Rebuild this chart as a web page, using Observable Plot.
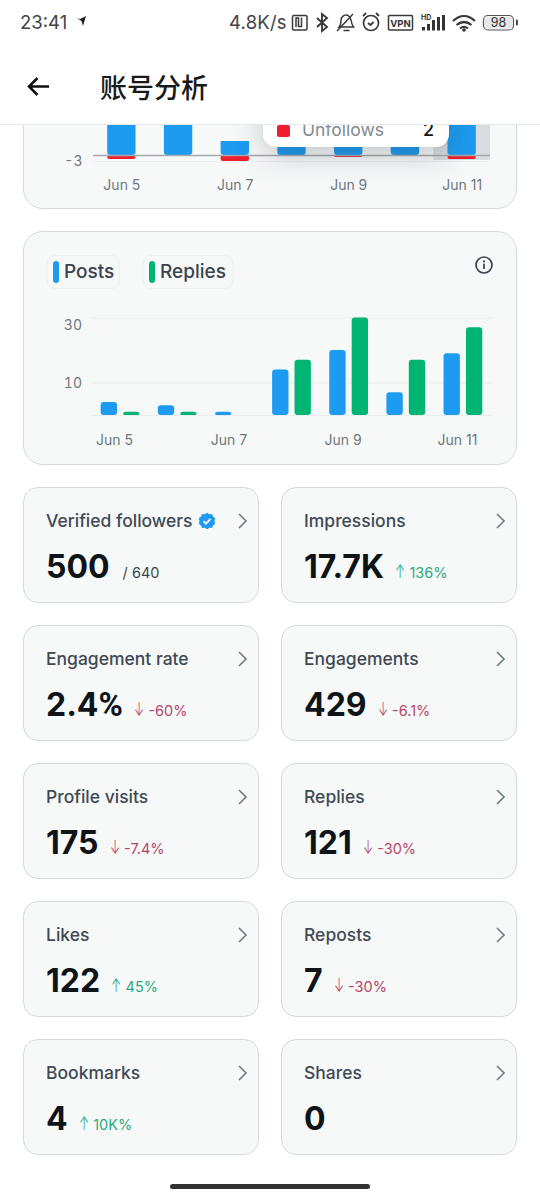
<!DOCTYPE html>
<html><head><meta charset="utf-8">
<script src="https://cdn.jsdelivr.net/npm/d3@7"></script>
<script src="https://cdn.jsdelivr.net/npm/@observablehq/plot@0.6"></script>
<style>
html,body{margin:0;padding:0;background:#fff;width:540px;height:1199px;overflow:hidden;font-family:Inter,sans-serif}
.abs{position:absolute}
.card{position:absolute;box-sizing:border-box;background:#f7f9f9;border:1px solid #d3d9dc}
.tile{width:236px;height:116px;border-radius:15px}
.tile .lab{position:absolute;left:22px;top:22px;font-size:17.5px;font-weight:500;color:#3f4a54;line-height:21px;white-space:nowrap}
.tile .row{position:absolute;left:22px;top:58px;line-height:42px;white-space:nowrap;display:flex;align-items:baseline}
.tile .val{font-size:32px;font-weight:700;color:#0f1419}
.tile .val span{font-family:Roboto,sans-serif;font-size:33px}
.tile .d{font-size:14.5px;margin-left:11px;font-weight:400}
.tile .d.of{margin-left:13px}
.tile .d a{display:inline-block;width:14.5px;font-size:18px;font-weight:300;line-height:1;transform:scaleX(.68);transform-origin:left center}
.tile svg{position:absolute}
.up{color:#2fa87c}.down{color:#b5456a}.of{color:#3c4650}
.pill{position:absolute;box-sizing:border-box;height:34px;top:255px;border:1px solid #eef1f2;border-radius:8px;background:#f7f9f9;font-size:19px;font-weight:500;color:#3a444e;line-height:32px;padding-left:16px}
.pill i{position:absolute;left:5px;top:5px;width:6px;height:22px;border-radius:3px}
#hdr{position:absolute;left:0;top:0;width:540px;height:125px;background:#fff;border-bottom:1px solid #e6e9eb;box-sizing:border-box;z-index:5}
#tip{position:absolute;left:263px;top:95px;width:186px;height:52px;background:#fff;border-radius:13px;box-shadow:0 8px 30px rgba(30,40,50,.25);z-index:3}
#tip b{position:absolute;left:14px;top:30px;width:13px;height:11.5px;background:#f01f2e;border-radius:2px}
#tip span{position:absolute;left:39px;top:24px;font-size:17.5px;line-height:21px;color:#808a92}
#tip em{position:absolute;right:15px;top:24px;font-style:normal;font-size:18px;line-height:21px;color:#0f1419;font-weight:500}
.plot{position:absolute;left:0}
</style></head>
<body>
<div class="card" style="left:23px;top:60px;width:494px;height:149px;border-radius:20px"></div>
<div class="card" style="left:23px;top:231px;width:494px;height:234px;border-radius:20px"></div>
<div class="pill" style="left:47px;width:73px"><i style="background:#1d9bf0"></i>Posts</div>
<div class="pill" style="left:143px;width:90px"><i style="background:#00b473"></i>Replies</div>
<svg class="abs" style="left:474px;top:255px" width="20" height="20" viewBox="0 0 20 20"><circle cx="10" cy="10" r="8" fill="none" stroke="#3c4650" stroke-width="1.7"/><circle cx="10" cy="6.3" r="1.1" fill="#3c4650"/><rect x="9.1" y="8.6" width="1.8" height="5.4" fill="#3c4650"/></svg>
<div id="tip"><b></b><span>Unfollows</span><em>2</em></div>
<div id="hdr">
<svg width="540" height="124" style="position:absolute;left:0;top:0">
<text x="20" y="28.5" font-family="Inter" font-size="18.5" fill="#444">23:41</text>
<path d="M77 18l3 1 6-3-3 10-1.500-5z" fill="#222"/>
<text x="229" y="29" font-family="Inter" font-size="18.500" fill="#444" letter-spacing=".2">4.8K/s</text>
<g fill="none" stroke="#3a3a3a" stroke-width="1.500">
<rect x="292.500" y="15.500" width="14.500" height="14.500" rx="1.500"/><path d="M296 27v-9h2.500v8.500h3v-9"/>
<path d="M317 18l10 9-5 4V14l5 4-10 9" stroke-width="1.900"/>
<path d="M339 27c2-2 2-5 2-7 0-3 3-5 5-5s4 2 5 5c.5 3 1 5 2.500 7zM343.500 30.500h6M337 31l16-17"/>
<circle cx="371" cy="23" r="7.500" stroke-width="1.700"/><path d="M368 23l2.500 2 3-3M363 16l3-3M376 13l3 3" stroke-width="1.800"/>
<rect x="388.500" y="15.500" width="24" height="14.500" rx="1"/>
<path d="M453 21c7-6.500 15-6.500 22 0M456.500 25c5-4 10-4 15 0M460 28.500c2.500-2 5.500-2 8 0" stroke-width="2.200"/>
<rect x="483.500" y="15.500" width="30" height="14.500" rx="4.500" stroke="#555" stroke-width="1.200"/>
</g>
<text x="400.500" y="26.500" font-family="Inter" font-size="9.500" font-weight="700" fill="#333" text-anchor="middle">VPN</text>
<text x="421" y="19.500" font-family="Inter" font-size="7" font-weight="700" fill="#333">HD</text>
<g fill="#333"><rect x="422" y="27" width="3" height="3.500"/><rect x="427" y="24" width="3" height="6.500"/><rect x="432" y="20" width="3" height="10.500"/><rect x="437" y="17" width="3" height="13.500"/><rect x="442" y="15" width="3" height="15.500"/><circle cx="464" cy="30" r="1.800"/><rect x="516" y="19.500" width="1.800" height="6" rx=".9"/></g>
<rect x="485" y="17" width="27" height="11.500" rx="3" fill="#e6e6e6"/>
<text x="498.500" y="27" font-family="Inter" font-size="12.500" fill="#333" text-anchor="middle">98</text>
<path d="M29 86.500h20M37.500 78l-8.500 8.500 8.500 8.500" fill="none" stroke="#111" stroke-width="2.500"/>
<text x="100" y="98" font-family="'Noto Sans CJK SC'" font-size="27" font-weight="500" fill="#1a1a1a">账号分析</text>
</svg>
</div>
<div id="tiles"></div>
<div class="abs" style="left:170px;top:1184px;width:200px;height:5px;border-radius:3px;background:#333"></div>

<script>
// --- top (scrolled) chart
const topDays = ["Jun 5","Jun 6","Jun 7","Jun 8","Jun 9","Jun 10","Jun 11"];
const topFollows = [20,22,7,20,24,20,26];
const topUnfollows = [-2,0,-3,0,-1,0,-2];
const topTicks = ["Jun 5","Jun 7","Jun 9","Jun 11"];
const hoverDay = ["Jun 11"];
// --- posts / replies chart
const days = ["Jun 5","Jun 6","Jun 7","Jun 8","Jun 9","Jun 10","Jun 11"];
const posts = [4,3,1,14,20,7,19];
const replies = [1,1,0,17,30,17,27];
const tickDays = ["Jun 5","Jun 7","Jun 9","Jun 11"];
const seriesNames = ["Posts","Replies"];
const seriesColors = ["#1d9bf0","#00b473"];
// --- metric tiles
const tileLabels = ["Verified followers","Impressions","Engagement rate","Engagements","Profile visits","Replies","Likes","Reposts","Bookmarks","Shares"];
const tileValues = ["500","17.7K","2.4%","429","175","121","122","7","4","0"];
const tileDeltas = ["/ 640","136%","-60%","-6.1%","-7.4%","-30%","45%","-30%","10K%",""];
const tileDirs = ["of","up","down","down","down","down","up","down","up",""];

const style = {background:"transparent",fontFamily:"Inter, sans-serif",fontSize:"14px",color:"#6f787f",overflow:"visible"};

const topPlot = Plot.plot({
  width:540,height:120,marginLeft:93,marginRight:50,marginTop:10,marginBottom:44,style,
  x:{domain:topDays,paddingInner:.5,paddingOuter:.25,round:false,axis:null},
  y:{domain:[-3,30],axis:null},
  marks:[
    Plot.ruleY([-3],{stroke:"#eceff1"}),
    Plot.barY(hoverDay,{x:d=>d,y1:-2.5,y2:30,fill:"#d8dcdf",insetLeft:-14.2,insetRight:-14.2}),
    Plot.barY(topFollows.map((v,i)=>({d:topDays[i],v})),{x:"d",y:"v",fill:"#1d9bf0",ry2:3,rx:3}),
    Plot.barY(topUnfollows.map((v,i)=>({d:topDays[i],v})).filter(d=>d.v<0),{x:"d",y:"v",fill:"#f01f2e",rx:2}),
    Plot.ruleY([0],{stroke:"#a4a9ad",strokeWidth:1.5}),
    Plot.axisY({ticks:[-3],tickFormat:d=>String(d),tickSize:0,tickPadding:11,label:null}),
    Plot.axisX({ticks:topTicks,tickSize:0,tickPadding:19,label:null,anchor:"bottom",y:-3})
  ]
});
topPlot.classList.add("plot");topPlot.style.top="85px";topPlot.style.zIndex=2;
document.body.appendChild(topPlot);

const rows = seriesNames.flatMap((s,k)=>days.map((d,i)=>({day:d,series:s,value:(k?replies:posts)[i]})));
const mainPlot = Plot.plot({
  width:540,height:155,marginLeft:91.5,marginRight:48.5,marginTop:17.5,marginBottom:40,style,
  fx:{domain:days,padding:0,round:false,axis:null,label:null},
  x:{domain:seriesNames,paddingInner:.27,paddingOuter:.41,round:false,axis:null},
  y:{domain:[0,30],axis:null},
  color:{domain:seriesNames,range:seriesColors},
  marks:[
    Plot.ruleY([0,10,30],{stroke:"#e9edef"}),
    Plot.barY(rows.filter(d=>d.value>0),{fx:"day",x:"series",y:"value",fill:"series",rx:3}),
    Plot.axisY({ticks:[30],tickSize:0,tickPadding:10,dy:7.5,label:null}),
    Plot.axisY({ticks:[10],tickSize:0,tickPadding:10,dy:1,label:null}),
    Plot.axisFx({ticks:tickDays,tickSize:0,tickPadding:20,dx:-6,label:null,anchor:"bottom"})
  ]
});
mainPlot.classList.add("plot");mainPlot.style.top="300px";
document.body.appendChild(mainPlot);

const holder=document.getElementById("tiles");
tileLabels.forEach((lab,i)=>{
  const left=i%2?281:23, top=487+138*(i>>1);
  const t=document.createElement("div");t.className="card tile";t.style.left=left+"px";t.style.top=top+"px";
  const arrow=tileDirs[i]==="up"?"↑":tileDirs[i]==="down"?"↓":"";
  let h=`<div class="lab">${lab}</div><div class="row"><span class="val">${tileValues[i].replace("%","<span>%</span>")}</span>`;
  if(tileDeltas[i]) h+=`<span class="d ${tileDirs[i]}">${arrow?`<a>${arrow}</a>`:""}${tileDeltas[i]}</span>`;
  h+=`</div><svg style="left:212px;top:24px" width="14" height="18" viewBox="0 0 14 18"><path d="M3 2l7 7-7 7" fill="none" stroke="#6f7f8a" stroke-width="1.700"/></svg>`;
  if(i===0) h+=`<svg style="left:174px;top:24px" width="18" height="18" viewBox="0 0 18 18"><path d="M9 .8l2.300 1.500 2.700-.2 1 2.500 2.200 1.600-.7 2.800.7 2.800-2.200 1.600-1 2.500-2.700-.2L9 17.200l-2.300-1.500-2.700.2-1-2.500L.8 11.800 1.500 9 .8 6.200 3 4.600l1-2.500 2.700.2z" fill="#1d9bf0"/><path d="M5.500 9.200l2.500 2.500 4.500-4.800" fill="none" stroke="#fff" stroke-width="1.800"/></svg>`;
  t.innerHTML=h;holder.appendChild(t);
});
</script>
</body></html>
